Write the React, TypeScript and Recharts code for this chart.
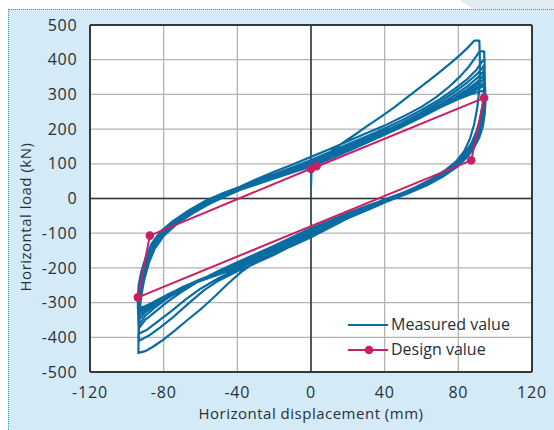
import {
  CartesianGrid,
  Label,
  Legend,
  Line,
  LineChart,
  ReferenceLine,
  XAxis,
  YAxis,
} from 'recharts';

// tick labels
const xTicks = [-120, -80, -40, 0, 40, 80, 120];
const yTicks = [-500, -400, -300, -200, -100, 0, 100, 200, 300, 400, 500];

// measured hysteresis: [displacement, load]
const cycle1: [number, number][] = [
  [0, 35], [0.4, 100], [5, 116], [10, 132], [15, 152], [20, 170], [25, 188], [30, 207],
  [37.5, 234], [45, 262], [52, 291], [58, 315], [64, 340], [70, 365], [76, 391], [81, 414],
  [85, 434], [88.7, 455], [91.4, 455], [91.6, 420], [91.8, 370], [91.4, 315], [90.3, 262],
  [88.6, 214], [86.3, 172], [83.2, 136], [79, 108], [73.5, 84], [66, 58], [57, 33], [48, 12],
  [40, -6], [30, -29], [20, -52], [10, -75], [0, -100], [-8, -118], [-15, -138], [-22, -158],
  [-30, -182], [-38, -212], [-45, -245], [-52, -281], [-59, -315], [-66.6, -348], [-74, -381],
  [-81, -410], [-86, -428], [-90, -440], [-93.7, -445],
];
const cycle2: [number, number][] = [
  [-93.7, -400], [-93.4, -340], [-92.3, -285], [-90.6, -235], [-88, -185], [-84.5, -140],
  [-79.5, -103], [-72.5, -70], [-63.5, -38], [-54.5, -11], [-46, 14], [-38, 35], [-30, 55],
  [-20, 77], [-10, 98], [0, 120], [10, 142], [20, 165], [30, 188], [40, 210], [50, 236],
  [60, 264], [68, 292], [75, 322], [81, 352], [86, 382], [89.5, 408], [91.5, 424], [94, 424],
  [94.3, 380], [94, 320], [93.2, 270], [91.6, 225], [89.4, 185], [86.5, 150], [82.5, 118], [77, 90],
  [70, 64], [61, 38], [51, 16], [42, -2], [32, -24], [20, -52], [10, -78], [0, -108],
  [-10, -135], [-20, -162], [-30, -186], [-40, -210], [-50, -236], [-58, -264], [-66, -300],
  [-74, -338], [-82, -372], [-88, -395], [-93.3, -410],
];
const cycle3: [number, number][] = [
  [-93.5, -395], [-93.3, -345], [-92.4, -290], [-91, -243], [-88.6, -192], [-85.2, -147],
  [-80.3, -108], [-73.2, -74], [-64.2, -41], [-55, -14], [-46, 10], [-38, 30], [-30, 49],
  [-20, 70], [-10, 90], [0, 111], [10, 133], [20, 156], [30, 179], [40, 202], [50, 227],
  [60, 255], [70, 286], [78, 316], [85, 345], [90, 372], [93, 395], [94.2, 400], [94.4, 340],
  [93.7, 285], [92.3, 238], [90, 195], [87, 158], [83, 125], [77.5, 96], [70.5, 68],
  [61.5, 42], [51.5, 19], [42, 0], [32, -22], [20, -49], [10, -74], [0, -102], [-10, -128],
  [-20, -154], [-30, -178], [-40, -203], [-50, -229], [-60, -260], [-68, -291], [-76, -325],
  [-84, -358], [-89, -378], [-93.5, -390],
];
const cycle4: [number, number][] = [
  [-93.6, -380], [-93.4, -335], [-92.5, -285], [-91, -240], [-88.5, -190], [-85, -146],
  [-80, -108], [-73, -74], [-64, -42], [-55, -15], [-46, 7], [-38, 26], [-30, 44], [-20, 64],
  [-10, 83], [0, 102], [10, 124], [20, 147], [30, 170], [40, 194], [50, 219], [60, 247],
  [70, 278], [78, 307], [85, 335], [90, 358], [93, 375], [94, 385], [94.3, 330], [93.8, 285],
  [92.5, 240], [90.2, 198], [87.2, 160], [83.3, 127], [78, 97], [71, 69], [61.8, 42],
  [51.6, 19], [42, 0], [32, -18], [20, -42], [10, -64], [0, -86], [-10, -111], [-20, -136],
  [-30, -160], [-40, -184], [-50, -208], [-60, -235], [-70, -268], [-78, -298], [-85, -328],
  [-90, -350], [-93.6, -375],
];
const cycle5: [number, number][] = [
  [-93.6, -368], [-93.4, -325], [-92.6, -280], [-91.2, -236], [-88.8, -187], [-85.4, -143],
  [-80.5, -106], [-73.5, -73], [-64.5, -41], [-55.5, -14], [-46.5, 8], [-38.5, 26], [-30, 43],
  [-20, 62], [-10, 80], [0, 99], [10, 120], [20, 143], [30, 166], [40, 189], [50, 213],
  [60, 240], [70, 270], [78, 298], [85, 324], [90, 346], [93, 362], [94.1, 370], [94.4, 320],
  [94, 278], [92.8, 236], [90.6, 196], [87.6, 160], [83.6, 128], [78.4, 99], [71.3, 71], [62.3, 44],
  [52, 21], [42.5, 2], [32, -19], [20, -45], [10, -68], [0, -92], [-10, -116], [-20, -141],
  [-30, -165], [-40, -188], [-50, -211], [-60, -235], [-70, -262], [-78, -288], [-85, -315],
  [-90, -338], [-93.7, -365],
];
const cycle6: [number, number][] = [
  [-93.7, -360], [-93.5, -318], [-92.7, -275], [-91.3, -232], [-89, -184], [-85.6, -141],
  [-80.8, -104], [-73.8, -71], [-64.8, -39], [-55.8, -12], [-47, 9], [-39, 27], [-30, 45],
  [-20, 64], [-10, 82], [0, 100], [10, 121], [20, 143], [30, 165], [40, 187], [50, 210],
  [60, 236], [70, 264], [78, 290], [85, 315], [90, 335], [93, 350], [94.2, 360], [94.5, 310],
  [94.1, 270], [93, 230], [90.9, 192], [88, 157], [84, 126], [78.8, 98], [71.5, 70],
  [62.5, 43], [52.3, 20], [42.8, 1], [32, -21], [20, -46], [10, -70], [0, -95], [-10, -119],
  [-20, -143], [-30, -166], [-40, -189], [-50, -211], [-60, -234], [-70, -258], [-78, -282],
  [-85, -307], [-90, -328], [-93.8, -352],
];
const cycle7: [number, number][] = [
  [-93.8, -345], [-93.6, -308], [-92.8, -268], [-91.4, -228], [-89.1, -181], [-85.8, -139],
  [-81, -102], [-74, -70], [-65, -38], [-56, -11], [-47.2, 8], [-39, 24], [-30, 40],
  [-20, 58], [-10, 75], [0, 92], [10, 113], [20, 136], [30, 160], [40, 184], [50, 208],
  [60, 234], [70, 262], [78, 287], [85, 309], [90, 328], [93, 340], [94.3, 348], [94.5, 300],
  [94.2, 262], [93.2, 225], [91.2, 188], [88.2, 155], [84.3, 124], [79, 96], [71.8, 69],
  [62.8, 42], [52.6, 19], [43, 0], [32, -23], [20, -48], [10, -72], [0, -97], [-10, -121],
  [-20, -145], [-30, -168], [-40, -190], [-50, -212], [-60, -233], [-70, -256], [-78, -279],
  [-85, -302], [-90, -320], [-93.8, -340],
];
const cycle8: [number, number][] = [
  [-93.8, -335], [-93.6, -300], [-92.9, -262], [-91.5, -224], [-89.2, -178], [-86, -137],
  [-81.2, -100], [-74.2, -68], [-65.2, -36], [-56.2, -9], [-47.4, 12], [-39, 30], [-30, 48],
  [-20, 67], [-10, 86], [0, 106], [10, 127], [20, 149], [30, 171], [40, 193], [50, 215],
  [60, 239], [70, 263], [78, 285], [85, 304], [90, 320], [93, 330], [94.4, 335], [94.6, 292],
  [94.3, 256], [93.3, 220], [91.4, 185], [88.5, 152], [84.6, 122], [79.3, 94], [72.2, 67], [63, 40],
  [52.8, 17], [43.2, -4], [32, -30], [20, -57], [10, -84], [0, -112], [-10, -136], [-20, -158],
  [-30, -180], [-40, -200], [-50, -219], [-60, -238], [-70, -258], [-78, -277], [-85, -298],
  [-90, -315], [-93.9, -332],
];
const cycle9: [number, number][] = [
  [-93.9, -328], [-93.7, -295], [-93, -258], [-91.6, -220], [-89.4, -175], [-86.2, -135],
  [-81.5, -99], [-74.5, -67], [-65.5, -35], [-56.5, -8], [-47.6, 13], [-39, 31], [-30, 49],
  [-20, 68], [-10, 87], [0, 107], [10, 128], [20, 150], [30, 172], [40, 194], [50, 216],
  [60, 239], [70, 262], [78, 283], [85, 300], [90, 314], [93, 322], [94.5, 326], [94.6, 285],
  [94.3, 250], [93.3, 215], [91.5, 181], [88.7, 150], [85, 121], [79.6, 93], [72.4, 66],
  [63.2, 39], [53, 16], [43.4, -3], [32, -26], [20, -51], [10, -76], [0, -101], [-10, -125],
  [-20, -149], [-30, -172], [-40, -194], [-50, -215], [-60, -236], [-70, -257], [-78, -277],
  [-85, -297], [-90, -312], [-93.9, -326], [-93.9, -300], [-93.5, -255], [-92, -215],
  [-89.5, -172], [-86.3, -133], [-81.5, -98], [-74.5, -66], [-65.5, -34], [-56.5, -7],
  [-47.6, 14], [-39, 32], [-30, 50], [-20, 69], [-10, 88], [0, 108],
];
const cycle10: [number, number][] = [
  [10, 129], [20, 151], [30, 173], [40, 195], [50, 217], [60, 240], [70, 262], [78, 282],
  [85, 297], [90, 306], [93, 310], [94.6, 312], [94.7, 275], [94.3, 242], [93.3, 208],
  [91.4, 176], [88.5, 146], [84.6, 118], [79.4, 91], [72.2, 65], [63, 38], [53, 15],
  [43.5, -4], [32, -27], [20, -53], [10, -79], [0, -104], [-10, -128], [-20, -151],
  [-30, -173], [-40, -195], [-50, -216], [-60, -237], [-70, -258], [-78, -278], [-85, -298],
  [-90, -310], [-94, -318], [-94, -290], [-93.6, -250], [-92.2, -212], [-89.8, -170],
  [-86.6, -131], [-82, -97], [-75, -65], [-66, -33], [-57, -6], [-48, 15], [-40, 31],
  [-30, 51], [-20, 70], [-10, 89], [0, 108],
];

// design (bilinear model) polygon
const designX = [0, 94, 87, -94, -87.5, 3];
const designY = [85, 290, 110, -285, -107, 93];

const measured = [
  ...cycle1, ...cycle2, ...cycle3, ...cycle4, ...cycle5,
  ...cycle6, ...cycle7, ...cycle8, ...cycle9, ...cycle10,
].map(([x, y]) => ({ x, y }));
const design = designX.map((x, i) => ({ x, y: designY[i] }));

const BLUE = '#0b6ca2';
const PINK = '#c91f63';
const TEXT = '#25313b';
const FONT = '"Open Sans", sans-serif';

const legendItems = [
  { name: 'Measured value', color: BLUE, dot: false },
  { name: 'Design value', color: PINK, dot: true },
];

function LegendBox() {
  return (
    <div style={{ fontFamily: FONT, fontSize: 16, color: TEXT }}>
      {legendItems.map((item) => (
        <div key={item.name} style={{ display: 'flex', alignItems: 'center', height: 25 }}>
          <svg width={40} height={12} style={{ marginRight: 3 }}>
            <line x1={0} y1={6} x2={40} y2={6} stroke={item.color} strokeWidth={2} />
            {item.dot && <circle cx={21} cy={6} r={4.3} fill={item.color} />}
          </svg>
          <span style={{ lineHeight: '25px', whiteSpace: 'nowrap' }}>{item.name}</span>
        </div>
      ))}
    </div>
  );
}

export default function App() {
  return (
    <div style={{ position: 'absolute', left: 0, top: 0, width: 554, height: 430, background: '#fff', overflow: 'hidden' }}>
      <div
        style={{
          position: 'absolute', left: 460, top: 0, width: 94, height: 9, background: '#e3ecf3',
          clipPath: 'polygon(0 0, 100% 0, 100% 100%, 13px 100%)',
        }}
      />
      <div
        style={{
          position: 'absolute', left: 8, top: 9, width: 546, height: 421, background: '#d5eaf7',
          borderTop: '1px dotted #3f8fc6', borderLeft: '1px dotted #3f8fc6', boxSizing: 'border-box',
        }}
      />
      <div style={{ position: 'absolute', left: 0, top: 0 }}>
        <LineChart width={554} height={430} margin={{ top: 25, right: 22, bottom: 0, left: 30 }}>
          <CartesianGrid stroke="#b3b3b3" strokeWidth={1.3} fill="#ffffff" />
          <XAxis
            type="number"
            dataKey="x"
            domain={[-120, 120]}
            ticks={xTicks}
            allowDataOverflow
            height={58}
            tickLine={false}
            axisLine={false}
            tickMargin={9}
            tick={{ fill: TEXT, fontSize: 16, fontFamily: FONT, letterSpacing: 0.8 }}
          >
            <Label
              value="Horizontal displacement (mm)"
              position="insideBottom"
              offset={11}
              style={{ fill: TEXT, fontSize: 15, fontFamily: FONT, letterSpacing: 0.5 }}
            />
          </XAxis>
          <YAxis
            type="number"
            domain={[-500, 500]}
            ticks={yTicks}
            allowDataOverflow
            width={60}
            tickLine={false}
            axisLine={false}
            tickMargin={6.5}
            tick={{ fill: TEXT, fontSize: 16, fontFamily: FONT, letterSpacing: 0.8 }}
          >
            <Label
              content={() => (
                <text
                  transform="translate(25, 217) rotate(-90)"
                  textAnchor="middle"
                  dominantBaseline="central"
                  fill={TEXT}
                  fontSize={15}
                  fontFamily={FONT}
                  letterSpacing={0.5}
                >
                  Horizontal load (kN)
                </text>
              )}
            />
          </YAxis>
          <ReferenceLine x={0} stroke="#2e3a44" strokeWidth={1.6} />
          <ReferenceLine y={0} stroke="#2e3a44" strokeWidth={1.6} />
          <Line
            data={measured}
            dataKey="y"
            name="Measured value"
            stroke={BLUE}
            strokeWidth={2.2}
            strokeLinejoin="round"
            dot={false}
            isAnimationActive={false}
          />
          <Line
            data={design}
            dataKey="y"
            name="Design value"
            stroke={PINK}
            strokeWidth={2}
            dot={{ r: 4.3, fill: PINK, stroke: PINK, strokeWidth: 0 }}
            isAnimationActive={false}
          />
          <ReferenceLine x={-120} stroke="#2e3a44" strokeWidth={2} />
          <ReferenceLine x={120} stroke="#2e3a44" strokeWidth={2} />
          <ReferenceLine y={-500} stroke="#2e3a44" strokeWidth={2} />
          <ReferenceLine y={500} stroke="#2e3a44" strokeWidth={2} />
          <Legend
            layout="vertical"
            align="center"
            verticalAlign="middle"
            wrapperStyle={{ left: 348, top: 312, width: 'auto' }}
            content={() => <LegendBox />}
          />
        </LineChart>
      </div>
    </div>
  );
}
